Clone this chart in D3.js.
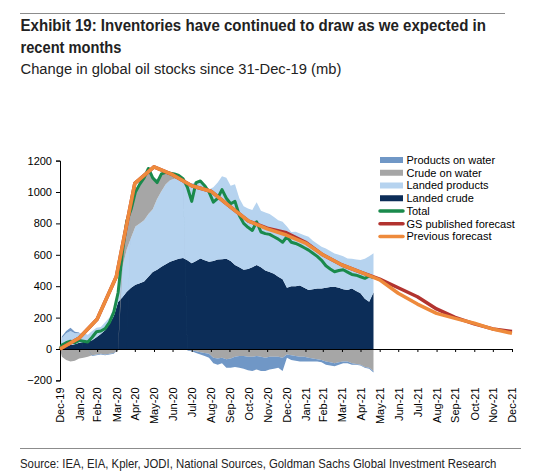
<!DOCTYPE html>
<html>
<head>
<meta charset="utf-8">
<script src="https://cdn.jsdelivr.net/npm/d3@7"></script>
<style>
  body { margin: 0; background: #fff; }
  .narrow { font-family: "Liberation Sans Narrow", "Liberation Sans", Arial, sans-serif; }
  .axis text, .legend text { font-family: "Liberation Sans", Arial, sans-serif; font-size: 11px; fill: #000; }
</style>
</head>
<body>
<div id="chart"></div>
<script>
// month ends, used for the axis ticks and the two forecast lines
var months = ["2019-12-31","2020-01-31","2020-02-29","2020-03-31","2020-04-30","2020-05-31","2020-06-30",
  "2020-07-31","2020-08-31","2020-09-30","2020-10-31","2020-11-30","2020-12-31","2021-01-31","2021-02-28",
  "2021-03-31","2021-04-30","2021-05-31","2021-06-30","2021-07-31","2021-08-31","2021-09-30","2021-10-31",
  "2021-11-30","2021-12-31"];
var previousForecast = [0, 70, 190, 460, 1055, 1160, 1110, 1040, 1005, 910, 815, 765, 726, 675, 600,
  535, 490, 440, 355, 286, 227, 195, 164, 127, 100];
var gsForecast = [0, 70, 190, 460, 1055, 1160, 1110, 1040, 1005, 910, 815, 770, 740, 680, 600,
  535, 490, 445, 390, 333, 255, 202, 160, 128, 112];

// weekly observations (mb change since 31-Dec-19)
var weeks = ["2019-12-31",
  "2020-01-03","2020-01-10","2020-01-17","2020-01-24","2020-01-31","2020-02-07","2020-02-14","2020-02-21",
  "2020-02-28","2020-03-06","2020-03-13","2020-03-20","2020-03-27","2020-04-03","2020-04-10","2020-04-17",
  "2020-04-24","2020-05-01","2020-05-08","2020-05-15","2020-05-22","2020-05-29","2020-06-05","2020-06-12",
  "2020-06-19","2020-06-26","2020-07-03","2020-07-10","2020-07-17","2020-07-24","2020-07-31","2020-08-07",
  "2020-08-14","2020-08-21","2020-08-28","2020-09-04","2020-09-11","2020-09-18","2020-09-25","2020-10-02",
  "2020-10-09","2020-10-16","2020-10-23","2020-10-30","2020-11-06","2020-11-13","2020-11-20","2020-11-27",
  "2020-12-04","2020-12-11","2020-12-18","2020-12-25","2021-01-01","2021-01-08","2021-01-15","2021-01-22",
  "2021-01-29","2021-02-05","2021-02-12","2021-02-19","2021-02-26","2021-03-05","2021-03-12","2021-03-19",
  "2021-03-26","2021-04-02","2021-04-09","2021-04-16","2021-04-23","2021-04-30","2021-05-07","2021-05-14",
  "2021-05-21"];
var landedCrude = [0, 10,20,25,30,40,45,50,55,75,95,120,160,210,
  300,330,365,390,410,418,430,460,490,505,524,540,555,565,575,580,
  565,546,560,577,565,556,560,570,572,575,560,535,520,505,510,520,535,520,500,490,480,460,445,
  390,400,400,405,390,376,380,385,386,390,395,397,390,380,376,385,370,355,320,301,360];
var landedProducts = [0, 60,80,90,70,60,55,40,60,60,45,50,40,50,
  90,190,270,320,370,382,390,400,400,450,480,510,520,520,510,495,
  490,510,500,480,470,460,470,490,528,515,480,515,440,405,385,365,400,360,370,370,360,360,365,
  390,345,347,330,335,339,310,285,265,250,230,212,210,210,201,190,200,212,255,289,250];
var crudeOnWater = [0, -50,-70,-80,-75,-60,-55,-50,-40,-35,-30,-35,-30,-25,
  -10,100,180,170,220,250,270,290,190,120,110,70,40,25,15,5,
  -5,-10,-15,-20,-25,-30,-55,-60,-55,-65,-60,-50,-45,-45,-50,-50,-45,-50,-55,-50,-50,-50,-55,
  -35,-40,-45,-50,-50,-55,-60,-65,-70,-80,-85,-90,-85,-80,-80,-90,-95,-100,-115,-120,-140];
var productsOnWater = [0, 10,15,20,10,5,0,0,-5,-5,-5,-5,-5,-5,
  0,0,0,10,10,10,10,10,10,5,5,5,5,5,5,5,
  -5,-5,-10,-15,-20,-25,-35,-40,-35,-55,-60,-65,-75,-80,-85,-90,-85,-90,-85,-80,-75,-70,-85,
  -20,-30,-30,-30,-30,-25,-20,-15,-15,-20,-20,-20,-15,-10,-10,-10,-5,-5,-5,-5,-10];
var total = [0, 25,40,50,40,55,50,45,75,110,115,130,170,235,
  360,620,815,890,1000,1050,1090,1150,1090,1060,1115,1125,1120,1115,1105,1085,
  1030,940,1060,1070,1040,1000,935,960,1015,960,925,940,850,800,775,755,810,745,735,730,715,700,680,
  715,680,672,660,645,630,610,590,565,530,510,492,500,505,490,475,470,460,450,465,455];

var yTicks = [-200, 0, 200, 400, 600, 800, 1000, 1200];

var colors = {
  "Products on water": "#7097c6",
  "Crude on water": "#a6a6a6",
  "Landed products": "#b6d3ef",
  "Landed crude": "#0c2d58",
  "Total": "#1a8a4c",
  "GS published forecast": "#b2332f",
  "Previous forecast": "#ee8a3c"
};

var parse = d3.timeParse("%Y-%m-%d");
var fmt = d3.timeFormat("%b-%y");

var width = 541, height = 475;
var svg = d3.select("#chart").append("svg")
  .attr("width", width)
  .attr("height", height);

// squeeze a text horizontally so it spans the given width (condensed face look)
function addText(tx, ty, size, bold, str, fitWidth) {
  var t = svg.append("text").attr("class", "narrow")
    .attr("x", 0).attr("y", 0)
    .style("font-size", size + "px")
    .style("font-weight", bold ? "bold" : "normal")
    .attr("fill", "#222")
    .text(str);
  var w = t.node().getComputedTextLength();
  var k = fitWidth ? fitWidth / w : 1;
  t.attr("transform", "translate(" + tx + "," + ty + ") scale(" + k + ",1)");
  return t;
}

// header / footer
svg.append("line").attr("x1", 20).attr("x2", 505).attr("y1", 13.5).attr("y2", 13.5)
  .attr("stroke", "#8c8c8c").attr("stroke-width", 1);
addText(20.5, 31, 16, true, "Exhibit 19: Inventories have continued to draw as we expected in", 466);
addText(20.5, 53, 16, true, "recent months", 101);
addText(20.5, 74, 15, false, "Change in global oil stocks since 31-Dec-19 (mb)", 321);
svg.append("line").attr("x1", 20).attr("x2", 521).attr("y1", 448.5).attr("y2", 448.5)
  .attr("stroke", "#8c8c8c").attr("stroke-width", 1);
addText(20, 468, 13, false, "Source: IEA, EIA, Kpler, JODI, National Sources, Goldman Sachs Global Investment Research", 477);

// scales
var x = d3.scaleTime()
  .domain([parse(months[0]), parse(months[months.length - 1])])
  .range([60, 512]);
var y = d3.scaleLinear()
  .domain([-200, 1200])
  .range([380.4, 160.6]);

// stacked areas (negative values stack below zero)
var keys = ["Landed crude", "Landed products", "Crude on water", "Products on water"];
var table = weeks.map(function(d, i) {
  return {
    date: parse(d),
    "Landed crude": landedCrude[i],
    "Landed products": landedProducts[i],
    "Crude on water": crudeOnWater[i],
    "Products on water": productsOnWater[i]
  };
});
var stacked = d3.stack().keys(keys).offset(d3.stackOffsetDiverging)(table);

var area = d3.area()
  .x(function(d) { return x(d.data.date); })
  .y0(function(d) { return y(d[0]); })
  .y1(function(d) { return y(d[1]); });

svg.append("g").selectAll("path")
  .data(stacked)
  .enter().append("path")
  .attr("d", area)
  .attr("fill", function(d) { return colors[d.key]; });

// axes
svg.append("g")
  .attr("class", "axis")
  .attr("transform", "translate(60,0)")
  .call(d3.axisLeft(y).tickValues(yTicks).tickSize(4).tickPadding(4).tickFormat(d3.format("d")))
  .call(function(g) { g.selectAll("line, path").attr("stroke", "#000"); });

var monthDates = months.map(parse);
svg.append("g")
  .attr("class", "axis")
  .attr("transform", "translate(0," + y(0) + ")")
  .call(d3.axisBottom(x).tickValues(monthDates).tickSize(3).tickSizeOuter(0).tickFormat(""))
  .call(function(g) { g.selectAll("line, path").attr("stroke", "#000"); });

svg.append("g")
  .attr("class", "axis")
  .attr("transform", "translate(0," + y(-200) + ")")
  .call(d3.axisBottom(x).tickValues(monthDates).tickSize(0).tickFormat(fmt))
  .call(function(g) {
    g.select(".domain").remove();
    g.selectAll("text")
      .attr("transform", "rotate(-90)")
      .attr("x", -7)
      .attr("y", 0)
      .attr("dy", "0.35em")
      .style("text-anchor", "end");
  });

// lines
var line = d3.line()
  .x(function(d) { return x(d.date); })
  .y(function(d) { return y(d.v); });

svg.append("path")
  .datum(weeks.map(function(d, i) { return {date: parse(d), v: total[i]}; }))
  .attr("d", line)
  .attr("fill", "none")
  .attr("stroke", colors["Total"])
  .attr("stroke-width", 3)
  .attr("stroke-linejoin", "round");

svg.append("path")
  .datum(months.map(function(d, i) { return {date: parse(d), v: gsForecast[i]}; }))
  .attr("d", line)
  .attr("fill", "none")
  .attr("stroke", colors["GS published forecast"])
  .attr("stroke-width", 3.5)
  .attr("stroke-linejoin", "round");

svg.append("path")
  .datum(months.map(function(d, i) { return {date: parse(d), v: previousForecast[i]}; }))
  .attr("d", line)
  .attr("fill", "none")
  .attr("stroke", colors["Previous forecast"])
  .attr("stroke-width", 3.5)
  .attr("stroke-linejoin", "round");

// legend
var legendNames = ["Products on water", "Crude on water", "Landed products", "Landed crude",
  "Total", "GS published forecast", "Previous forecast"];
var legend = svg.append("g").attr("class", "legend");
legendNames.forEach(function(name, i) {
  var ly = 160 + i * 12.75;
  if (i < 4) {
    legend.append("rect").attr("x", 380).attr("y", ly - 3).attr("width", 23).attr("height", 6)
      .attr("fill", colors[name]);
  } else {
    legend.append("line").attr("x1", 380).attr("x2", 403).attr("y1", ly).attr("y2", ly)
      .attr("stroke", colors[name]).attr("stroke-width", 3.5).attr("stroke-linecap", "round");
  }
  legend.append("text").attr("x", 406.5).attr("y", ly).attr("dy", "0.35em").text(name);
});
</script>
</body>
</html>
